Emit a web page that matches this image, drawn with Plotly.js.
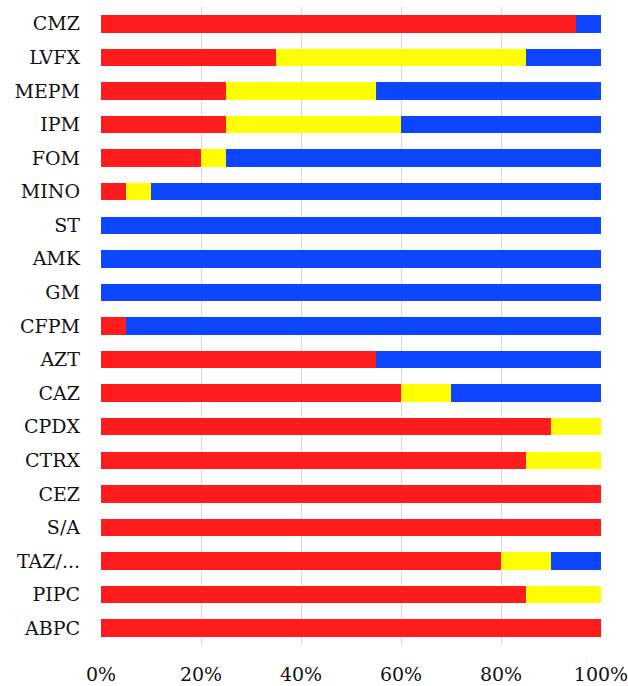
<!DOCTYPE html>
<html>
<head>
<meta charset="utf-8">
<script src="https://cdn.plot.ly/plotly-3.0.1.min.js"></script>
<style>html,body{margin:0;padding:0;background:#fff;}#chart{width:628px;height:686px;}</style>
</head>
<body>
<div id="chart"></div>
<script>
var categories = ["CMZ","LVFX","MEPM","IPM","FOM","MINO","ST","AMK","GM","CFPM","AZT","CAZ","CPDX","CTRX","CEZ","S/A","TAZ/...","PIPC","ABPC"];
var redValues    = [95,35,25,25,20,5,0,0,0,5,55,60,90,85,100,100,80,85,100];
var yellowValues = [0,50,30,35,5,5,0,0,0,0,0,10,10,15,0,0,10,15,0];
var blueValues   = [5,15,45,40,75,90,100,100,100,95,45,30,0,0,0,0,10,0,0];
var xTickVals = [0,20,40,60,80,100];
var xTickText = ["0%","20%","40%","60%","80%","100%"];

function series(vals, color){
  return {type:"bar", orientation:"h", y:categories, x:vals,
    marker:{color:color, line:{width:0}}, hoverinfo:"none", showlegend:false};
}
var data = [series(redValues,"#ff1c1c"), series(yellowValues,"#ffff00"), series(blueValues,"#0c46ff")];
var layout = {
  width:628, height:686,
  margin:{l:101, r:27, t:7, b:41},
  barmode:"stack", bargap:0.48,
  paper_bgcolor:"#fff", plot_bgcolor:"#fff",
  font:{family:"DejaVu Serif", size:19, color:"#111"},
  xaxis:{range:[0,100], tickvals:xTickVals, ticktext:xTickText, showgrid:true,
    gridcolor:"#d9d9d9", gridwidth:1, zeroline:false, showline:false, ticks:"",
    ticklabelstandoff:16, ticklabeloverflow:"allow", fixedrange:true},
  yaxis:{type:"category", autorange:"reversed", showgrid:false, zeroline:false,
    showline:false, ticks:"", ticklabelstandoff:20, fixedrange:true}
};
Plotly.newPlot("chart", data, layout, {displayModeBar:false, staticPlot:true});
</script>
</body>
</html>
